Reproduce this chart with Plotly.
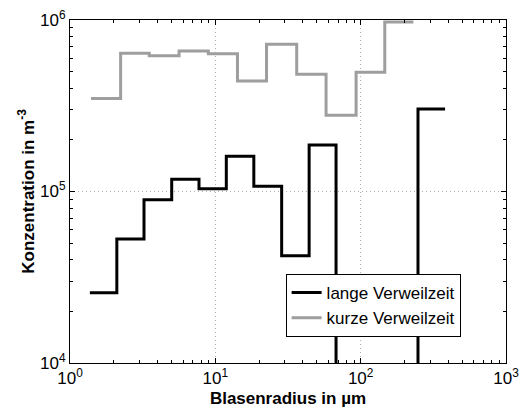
import plotly.graph_objects as go

# ---- data ----
lange_edges = [1.37, 2.10, 3.23, 5.01, 7.72, 11.9, 18.4, 28.6, 44.2, 67.7, 104.5, 161.0, 248.0, 381.0]
lange_vals = [25700, 52800, 89500, 117800, 103800, 160400, 107200, 42200, 186700, 0, 0, 0, 302700]

kurze_edges = [1.395, 2.23, 3.51, 5.63, 8.95, 14.2, 22.5, 36.3, 57.8, 93.0, 146.5, 230.6]
kurze_vals = [349000, 639000, 619000, 660000, 636000, 441000, 721000, 482000, 278000, 496000, 973000]

x_tickvals = [1, 10, 100, 1000]
x_ticktext = ["10<sup>0</sup>", "10<sup>1</sup>", "10<sup>2</sup>", "10<sup>3</sup>"]
y_tickvals = [1e4, 1e5, 1e6]
y_ticktext = ["10<sup>4</sup>", "10<sup>5</sup>", "10<sup>6</sup>"]

FONT = "Liberation Sans, Arial, sans-serif"


def stairs_y(vals):
    # zero bins on a log axis: send the line below the visible range
    v = [val if val > 0 else 1.0 for val in vals]
    return v + [v[-1]]


fig = go.Figure()
fig.add_trace(go.Scatter(
    x=lange_edges, y=stairs_y(lange_vals), mode="lines",
    line=dict(color="black", width=3, shape="hv"),
    name="lange Verweilzeit"))
fig.add_trace(go.Scatter(
    x=kurze_edges, y=stairs_y(kurze_vals), mode="lines",
    line=dict(color="rgb(158,158,158)", width=3, shape="hv"),
    name="kurze Verweilzeit"))

minor_x = [m * 10 ** d for d in range(0, 3) for m in range(2, 10)]
minor_y = [m * 10 ** d for d in range(4, 6) for m in range(2, 10)]

axis_common = dict(
    type="log", showline=True, linecolor="black", linewidth=1,
    ticks="inside", ticklen=5, tickcolor="black", tickwidth=1,
    zeroline=False, tickfont=dict(family=FONT, size=17, color="black"),
)

fig.update_layout(
    xaxis=dict(
        **axis_common, range=[0, 3], tickmode="array", tickvals=x_tickvals, ticktext=x_ticktext,
        showgrid=True, gridcolor="rgb(175,175,175)", griddash="1px,3px", gridwidth=1,
        minor=dict(tickmode="array", tickvals=minor_x, ticks="inside", ticklen=3,
                   tickcolor="black", showgrid=False),
        title=dict(text="<b>Blasenradius in µm</b>", font=dict(family=FONT, size=17, color="black"),
                   standoff=4),
    ),
    yaxis=dict(
        **axis_common, range=[4, 6], tickmode="array", tickvals=y_tickvals, ticktext=y_ticktext,
        showgrid=True, gridcolor="rgb(175,175,175)", griddash="1px,3px", gridwidth=1,
        minor=dict(tickmode="array", tickvals=minor_y, ticks="inside", ticklen=3,
                   tickcolor="black", showgrid=False),
        title=dict(text="<b>Konzentration in m<sup>-3</sup></b>", font=dict(family=FONT, size=17, color="black"),
                   standoff=1),
    ),
    xaxis2=dict(
        **axis_common, range=[0, 3], overlaying="x", side="top", matches="x",
        tickmode="array", tickvals=x_tickvals, showticklabels=False, showgrid=False,
        minor=dict(tickmode="array", tickvals=minor_x, ticks="inside", ticklen=3,
                   tickcolor="black", showgrid=False),
    ),
    yaxis2=dict(
        **axis_common, range=[4, 6], overlaying="y", side="right", matches="y",
        tickmode="array", tickvals=y_tickvals, showticklabels=False, showgrid=False,
        minor=dict(tickmode="array", tickvals=minor_y, ticks="inside", ticklen=3,
                   tickcolor="black", showgrid=False),
    ),
)

# invisible helper trace so the mirrored axes are drawn
fig.add_trace(go.Scatter(x=[lange_edges[0]], y=[lange_vals[0]], xaxis="x2", yaxis="y2",
                         mode="markers", marker=dict(opacity=0), showlegend=False,
                         hoverinfo="skip"))

fig.update_layout(
    width=527, height=412,
    margin=dict(l=70, r=21, t=20, b=49, autoexpand=False),
    plot_bgcolor="white", paper_bgcolor="white",
    showlegend=True,
    legend=dict(x=0.4945, y=0.2595, xanchor="left", yanchor="top",
                bgcolor="white", bordercolor="black", borderwidth=1,
                font=dict(family=FONT, size=17, color="black"),
                itemwidth=30, tracegroupgap=0),
)

fig.write_html("out.html")
